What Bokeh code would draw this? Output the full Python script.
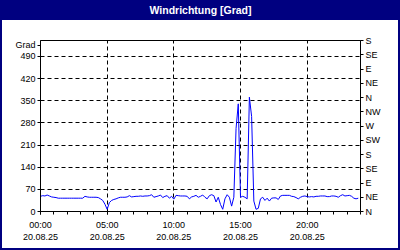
from bokeh.plotting import figure
from bokeh.models import FixedTicker, LinearAxis, Range1d
from bokeh.embed import file_html
from bokeh.resources import INLINE

title_text = "Windrichtung [Grad]"
unit_label = "Grad"
date_label = "20.08.25"
hour_ticks = [0, 5, 10, 15, 20]
hour_labels = ["00:00", "05:00", "10:00", "15:00", "20:00"]
hour_minor = list(range(25))
title_tick = 12
grad_ticks = [0, 70, 140, 210, 280, 350, 420, 490]
unit_tick = 525
compass_ticks = [0, 45, 90, 135, 180, 225, 270, 315, 360, 405, 450, 495, 540]
compass_labels = ["N", "NE", "E", "SE", "S", "SW", "W", "NW", "N", "NE", "E", "SE", "S"]
sample_minutes = 10

# wind direction in degrees, one value per 10 minutes starting 00:00
direction = [
    48, 50, 49, 52, 49, 46,
    45, 44, 42, 42, 42, 42,
    42, 42, 42, 42, 42, 42,
    42, 42, 48, 46, 45, 45,
    45, 45, 44, 40, 35, 23,
    7, 28, 35, 38, 40, 43,
    45, 45, 45, 46, 50, 46,
    47, 48, 48, 49, 48, 49,
    49, 50, 53, 45, 47, 49,
    52, 44, 48, 50, 42, 48,
    39, 51, 50, 49, 49, 49,
    48, 40, 46, 48, 51, 45,
    48, 52, 45, 40, 50, 53,
    50, 30, 45, 22, 7, 40,
    53, 45, 17, 45, 262, 340,
    45, 48, 45, 40, 361, 300,
    33, 7, 10, 40, 45, 35,
    42, 33, 42, 43, 43, 38,
    49, 51, 51, 51, 51, 48,
    47, 44, 40, 45, 48, 49,
    47, 46, 47, 46, 48, 48,
    49, 49, 49, 47, 47, 49,
    49, 48, 45, 50, 53, 49,
    50, 51, 48, 42, 40, 42,
]
hours = [i * sample_minutes / 60 for i in range(len(direction))]

FONT = "Liberation Sans"
NAVY = "#000080"

p = figure(width=400, height=250, output_backend="svg", toolbar_location=None,
           x_range=Range1d(0, 24), y_range=Range1d(0, 540),
           min_border_left=40, min_border_right=40, min_border_top=40, min_border_bottom=39)
p.background_fill_color = "white"
p.border_fill_color = None
p.outline_line_color = "black"
p.outline_line_alpha = 1
p.styles = {
    "background": f"linear-gradient(to bottom, {NAVY} 0px, {NAVY} 20px, #ffffff 20px, #ffffff 100%)",
    "outline": f"2px solid {NAVY}",
    "outline-offset": "-2px",
}

xa = p.below[0]
ya = p.left[0]

# bottom axis
xa.ticker = FixedTicker(ticks=hour_ticks, minor_ticks=hour_minor)
xa.major_label_overrides = {t: f"{l}\n{date_label}" for t, l in zip(hour_ticks, hour_labels)}
xa.major_tick_out = 3
xa.major_tick_in = 0
xa.minor_tick_out = 3
xa.minor_tick_in = 0
xa.major_label_standoff = 5
xa.major_label_text_font = FONT
xa.major_label_text_font_size = "9px"
xa.major_label_text_color = "black"
xa.axis_line_color = "black"
xa.major_tick_line_color = "black"
xa.minor_tick_line_color = "black"

# left axis (unit name shown as the topmost label)
ya.ticker = FixedTicker(ticks=grad_ticks + [unit_tick], minor_ticks=[])
ya.major_label_overrides = {unit_tick: unit_label}
ya.major_tick_out = 3
ya.major_tick_in = 0
ya.major_label_standoff = 2
ya.major_label_text_font = FONT
ya.major_label_text_font_size = "9px"
ya.major_label_text_color = "black"
ya.axis_line_color = "black"

# grid (set before extra axes are added)
p.xgrid[0].ticker = FixedTicker(ticks=hour_ticks[1:])
p.ygrid[0].ticker = FixedTicker(ticks=grad_ticks[1:])
for g in (p.xgrid[0], p.ygrid[0]):
    g.grid_line_color = "black"
    g.grid_line_dash = "4 3"
    g.grid_line_width = 1
    g.grid_line_alpha = 1

# right compass axis
ra = LinearAxis(ticker=FixedTicker(ticks=compass_ticks, minor_ticks=[]),
                major_label_overrides={t: l for t, l in zip(compass_ticks, compass_labels)})
ra.major_tick_out = 3
ra.major_tick_in = 0
ra.major_label_standoff = 2
ra.major_label_text_font = FONT
ra.major_label_text_font_size = "9px"
ra.major_label_text_color = "black"
ra.axis_line_color = "black"
p.add_layout(ra, "right")

# title drawn as a label-only axis above the frame
ta = LinearAxis(ticker=FixedTicker(ticks=[title_tick], minor_ticks=[]),
                major_label_overrides={title_tick: title_text})
ta.axis_line_color = None
ta.major_tick_line_color = None
ta.minor_tick_line_color = None
ta.major_tick_out = 0
ta.major_tick_in = 0
ta.major_label_standoff = 25
ta.major_label_text_color = "white"
ta.major_label_text_font = FONT
ta.major_label_text_font_style = "bold"
ta.major_label_text_font_size = "10.5px"
p.add_layout(ta, "above")

p.line(hours, direction, line_color="#0000ff", line_width=1)

open("out.html", "w").write(file_html(p, INLINE))
